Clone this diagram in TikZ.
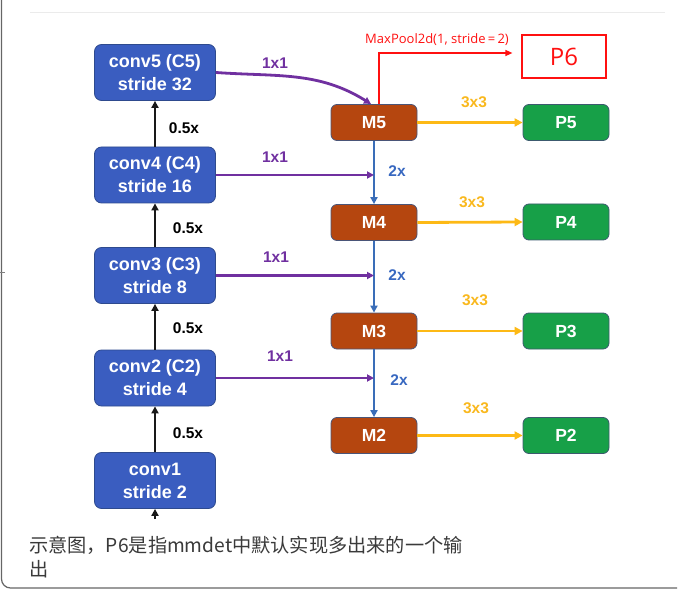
\documentclass[tikz,border=0pt]{standalone}
\usepackage{fontspec}
\setmainfont{Liberation Sans}
\newfontfamily\cjkfont{Noto Sans CJK SC}
\newfontfamily\uifont{Open Sans}
\usetikzlibrary{arrows.meta,calc}
\definecolor{convblue}{HTML}{3A5DC0}
\definecolor{convedge}{HTML}{2E4A8E}
\definecolor{mbrown}{HTML}{B5460F}
\definecolor{medge}{HTML}{4A5578}
\definecolor{pgreen}{HTML}{17A048}
\definecolor{pedge}{HTML}{3C5A6E}
\definecolor{ylw}{HTML}{FDB915}
\definecolor{ylwtxt}{HTML}{F9B81E}
\definecolor{purp}{HTML}{7030A0}
\definecolor{bline}{HTML}{3A6DB8}
\definecolor{btxt}{HTML}{3868C0}
\definecolor{redc}{HTML}{FF1010}
\definecolor{captxt}{HTML}{3A3A3A}
\tikzset{
  convbox/.style={draw=convedge, line width=0.8pt, fill=convblue, rounded corners=7pt,
    minimum width=121pt, minimum height=56pt, align=center, text=white,
    font=\fontsize{18}{23}\selectfont\bfseries, inner sep=0pt},
  mbox/.style={draw=medge, line width=0.8pt, fill=mbrown, rounded corners=6pt,
    minimum width=86pt, minimum height=36pt, text=white,
    font=\fontsize{17.5}{20}\selectfont\bfseries, inner sep=0pt},
  pbox/.style={draw=pedge, line width=0.8pt, fill=pgreen, rounded corners=6pt,
    minimum width=86pt, minimum height=36pt, text=white,
    font=\fontsize{17.5}{20}\selectfont\bfseries, inner sep=0pt},
  p6box/.style={draw=redc, line width=1.2pt, fill=white,
    minimum width=84pt, minimum height=43pt, text=redc,
    font=\uifont\fontsize{24}{28}\selectfont, inner sep=0pt},
  blkarrow/.style={draw=black!90, line width=2.6pt, -{Triangle[length=7pt,width=7pt]}},
  purarrow/.style={draw=purp, line width=2.8pt, -{Triangle[length=7pt,width=7pt]}},
  bluarrow/.style={draw=bline, line width=2.4pt, -{Triangle[length=7pt,width=7pt]}},
  ylwarrow/.style={draw=ylw, line width=2.8pt, -{Triangle[length=8pt,width=8pt]}},
  redarrow/.style={draw=redc, line width=1.3pt, -{Triangle[length=7pt,width=6pt]}},
  lbl/.style={font=\fontsize{15.5}{17}\selectfont\bfseries, inner sep=0pt},
}
\begin{document}
\begin{tikzpicture}[x=1pt,y=-1pt]
\useasboundingbox (0,0) rectangle (699,596);
% frame
\draw[draw=black!8, line width=0.8pt] (30,12) -- (665,12);
\draw[draw=black!60, line width=1.2pt, rounded corners=9pt] (1.5,0) -- (1.5,588) -- (677,588);
\draw[draw=black!50, line width=0.8pt] (0,272) -- (5,272);

% backbone
\node[convbox] (c5) at (155,72.5) {conv5 (C5)\\stride 32};
\node[convbox] (c4) at (155,175) {conv4 (C4)\\stride 16};
\node[convbox] (c3) at (155,275.5) {conv3 (C3)\\stride 8};
\node[convbox] (c2) at (155,378) {conv2 (C2)\\stride 4};
\node[convbox] (c1) at (155,480.5) {conv1\\stride 2};
\coordinate (cin) at (155,519);

% M nodes
\node[mbox] (m5) at (374,122.5) {M5};
\node[mbox] (m4) at (374,222.5) {M4};
\node[mbox] (m3) at (374,331) {M3};
\node[mbox] (m2) at (374,435.5) {M2};

% P nodes
\node[pbox] (p5) at (566,122.5) {P5};
\node[pbox] (p4) at (566,222) {P4};
\node[pbox] (p3) at (566,331) {P3};
\node[pbox] (p2) at (566,435.5) {P2};
\node[p6box] (p6) at (564,56.5) {P6};

% bottom-up arrows
\draw[blkarrow] (cin) -- (c1.south);
\draw[blkarrow] (c1.north) -- (c2.south);
\draw[blkarrow] (c2.north) -- (c3.south);
\draw[blkarrow] (c3.north) -- (c4.south);
\draw[blkarrow] (c4.north) -- (c5.south);
\node[lbl] (h4) at (184,128) {0.5x};
\node[lbl] (h3) at (188,228) {0.5x};
\node[lbl] (h2) at (188,328) {0.5x};
\node[lbl] (h1) at (188,433) {0.5x};

% top-down
\draw[bluarrow] (m5.south) -- (m4.north);
\draw[bluarrow] (m4.south) -- (m3.north);
\draw[bluarrow] (m3.south) -- (m2.north);
\node[lbl, text=btxt] (u4) at (397,171) {2x};
\node[lbl, text=btxt] (u3) at (397,275) {2x};
\node[lbl, text=btxt] (u2) at (399,380) {2x};

% lateral 1x1
\coordinate (m5in) at (371,104);
\draw[purarrow] (c5.east) to[out=-4,in=148] (m5in);
\coordinate (j4) at (c4.east -| m5.south);
\coordinate (j3) at (c3.east -| m5.south);
\coordinate (j2) at (c2.east -| m5.south);
\draw[purarrow] (c4.east) -- (j4);
\draw[purarrow] (c3.east) -- (j3);
\draw[purarrow] (c2.east) -- (j2);
\node[lbl, text=purp] (l5) at (275,63) {1x1};
\node[lbl, text=purp] (l4) at (275,157) {1x1};
\node[lbl, text=purp] (l3) at (276,257) {1x1};
\node[lbl, text=purp] (l2) at (280,356) {1x1};

% 3x3 outputs
\draw[ylwarrow] (m5.east) -- (p5.west);
\draw[ylwarrow] (m4.east) -- (p4.west);
\draw[ylwarrow] (m3.east) -- (p3.west);
\draw[ylwarrow] (m2.east) -- (p2.west);
\node[lbl, text=ylwtxt] (s5) at (474,102) {3x3};
\node[lbl, text=ylwtxt] (s4) at (472,202) {3x3};
\node[lbl, text=ylwtxt] (s3) at (475,300) {3x3};
\node[lbl, text=ylwtxt] (s2) at (476,408) {3x3};

% P6 maxpool
\coordinate (m5up) at ($(m5.north)+(5,0)$);
\coordinate (p6in) at ($(p6.west)+(-9,-3.5)$);
\draw[redarrow] (m5up) |- (p6in);
\node[font=\uifont\fontsize{13}{15}\selectfont, text=redc, inner sep=0pt] (mp) at (437,40) {MaxPool2d(1, stride\,=\,2)};

% caption
\node[anchor=west, font=\cjkfont\fontsize{19.2}{22}\selectfont, text=captxt, inner sep=0pt] (cap1) at (29,545) {示意图，P6是指mmdet中默认实现多出来的一个输};
\node[anchor=west, font=\cjkfont\fontsize{19.2}{22}\selectfont, text=captxt, inner sep=0pt] (cap2) at (29,569) {出};
\end{tikzpicture}
\end{document}
